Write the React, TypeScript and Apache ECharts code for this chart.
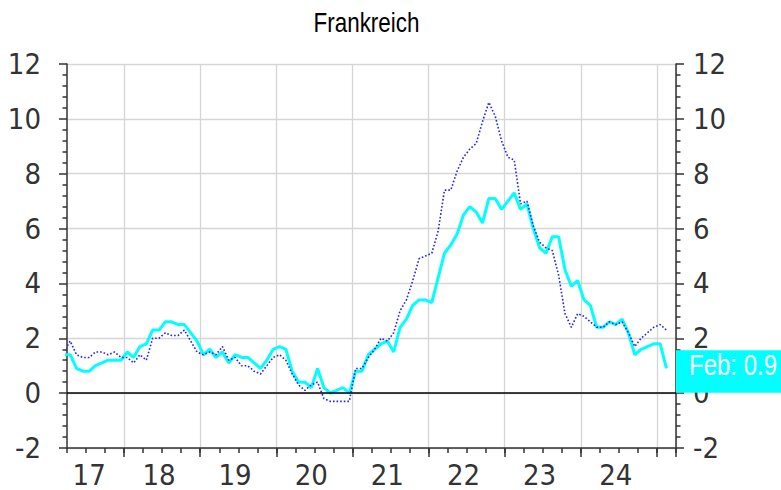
import { useEffect, useRef } from 'react';
import * as echarts from 'echarts';

const AXIS_FONT = '"DejaVu Sans Condensed", "Liberation Sans", sans-serif';
const TEXT_FONT = '"Liberation Sans", Arial, sans-serif';

const chartTitle = 'Frankreich';
// first observation: March 2017 (monthly, plotted mid-month)
const firstYear = 2017;
const firstMonth = 3;
// visible axis: April 2017 .. March 2025 (monthly bands)
const axisFirst = { year: 2017, month: 4 };
const axisMonths = 96;

const yMin = -2;
const yMax = 12;
const yStep = 2;

const monthAbbr = ['Jan', 'Feb', 'Mär', 'Apr', 'Mai', 'Jun', 'Jul', 'Aug', 'Sep', 'Okt', 'Nov', 'Dez'];

// cyan solid line (France)
const frankreich = [
  1.4, 1.4, 0.9, 0.8, 0.8, 1.0, 1.1, 1.2, 1.2, 1.2,
  1.5, 1.3, 1.7, 1.8, 2.3, 2.3, 2.6, 2.6, 2.5, 2.5, 2.2, 1.9,
  1.4, 1.6, 1.3, 1.5, 1.1, 1.4, 1.3, 1.3, 1.1, 0.9, 1.2, 1.6,
  1.7, 1.6, 0.8, 0.4, 0.4, 0.2, 0.9, 0.2, 0.0, 0.1, 0.2, 0.0,
  0.8, 0.8, 1.4, 1.6, 1.8, 1.9, 1.5, 2.4, 2.7, 3.2, 3.4, 3.4,
  3.3, 4.2, 5.1, 5.4, 5.8, 6.5, 6.8, 6.6, 6.2, 7.1, 7.1, 6.7,
  7.0, 7.3, 6.7, 6.9, 6.0, 5.3, 5.1, 5.7, 5.7, 4.5, 3.9, 4.1,
  3.4, 3.2, 2.4, 2.4, 2.6, 2.5, 2.7, 2.2, 1.4, 1.6, 1.7, 1.8,
  1.8, 0.9,
];

// blue dotted line (comparison)
const vergleich = [
  1.5, 1.9, 1.4, 1.3, 1.3, 1.5, 1.5, 1.4, 1.5, 1.3,
  1.3, 1.1, 1.4, 1.2, 2.0, 2.0, 2.2, 2.1, 2.1, 2.3, 1.9, 1.5,
  1.4, 1.5, 1.4, 1.7, 1.2, 1.3, 1.0, 1.0, 0.8, 0.7, 1.0, 1.3,
  1.4, 1.2, 0.7, 0.3, 0.1, 0.3, 0.4, -0.2, -0.3, -0.3, -0.3, -0.3,
  0.9, 0.9, 1.3, 1.6, 2.0, 1.9, 2.2, 3.0, 3.4, 4.1, 4.9, 5.0,
  5.1, 5.9, 7.4, 7.4, 8.1, 8.6, 8.9, 9.1, 9.9, 10.6, 10.1, 9.2,
  8.6, 8.5, 6.9, 7.0, 6.1, 5.5, 5.3, 5.2, 4.3, 2.9, 2.4, 2.9,
  2.8, 2.6, 2.4, 2.4, 2.6, 2.5, 2.6, 2.2, 1.7, 2.0, 2.2, 2.4,
  2.5, 2.3,
];

// month index since Jan of firstYear (0-based)
const monthIndex = (year: number, month: number) => (year - firstYear) * 12 + (month - 1);

const categories: string[] = [];
for (let i = 0; i < axisMonths; i++) {
  const idx = monthIndex(axisFirst.year, axisFirst.month) + i;
  const y = firstYear + Math.floor(idx / 12);
  const m = (idx % 12) + 1;
  categories.push(`${y}-${m < 10 ? '0' + m : m}`);
}

const catMonth = (v: string) => parseInt(v.slice(5, 7), 10);
const catYear = (v: string) => parseInt(v.slice(0, 4), 10);

const toPairs = (vals: number[]) =>
  vals.map((v, i) => [monthIndex(firstYear, firstMonth) + i + 0.5, v]);

const xMin = monthIndex(axisFirst.year, axisFirst.month);
const xMax = xMin + axisMonths;

export default function App() {
  const ref = useRef<HTMLDivElement>(null);
  useEffect(() => {
    if (!ref.current) return;
    const chart = echarts.init(ref.current, null, { renderer: 'svg' });
    const axisColor = '#333';
    const gridColor = '#d5d5d5';
    const labelStyle = { fontSize: 29, color: axisColor, fontFamily: AXIS_FONT };
    const yBase = {
      type: 'value',
      min: yMin,
      max: yMax,
      interval: yStep,
      axisLine: { show: true, onZero: false, lineStyle: { color: axisColor, width: 1.5 } },
      axisTick: { show: true, length: 8, lineStyle: { color: axisColor, width: 1.5 } },
      minorTick: { show: true, splitNumber: 5, length: 4.5, lineStyle: { color: axisColor, width: 1.5 } },
    };
    chart.setOption({
      animation: false,
      backgroundColor: '#fff',
      grid: { left: 67, right: 105, top: 64, bottom: 42, containLabel: false, outerBoundsMode: 'none' },
      xAxis: [
        {
          type: 'category',
          position: 'bottom',
          data: categories,
          boundaryGap: true,
          axisLine: { show: true, onZero: false, lineStyle: { color: axisColor, width: 1.5 } },
          axisTick: {
            show: true,
            length: 5,
            interval: (_i: number, v: string) => catMonth(v) % 3 === 1,
            lineStyle: { color: axisColor, width: 1.5 },
          },
          axisLabel: { show: false },
          splitLine: { show: false },
        },
        {
          type: 'category',
          position: 'bottom',
          data: categories,
          boundaryGap: true,
          axisLine: { show: false, onZero: false },
          axisTick: {
            show: true,
            length: 9,
            interval: (_i: number, v: string) => catMonth(v) === 1,
            lineStyle: { color: axisColor, width: 1.5 },
          },
          splitLine: {
            show: true,
            interval: (_i: number, v: string) => catMonth(v) === 1,
            lineStyle: { color: gridColor, width: 1.3 },
          },
          axisLabel: {
            ...labelStyle,
            margin: 12,
            lineHeight: 29,
            interval: (_i: number, v: string) =>
              catYear(v) === axisFirst.year ? catMonth(v) === 7 : catMonth(v) === 6,
            formatter: (v: string) => v.slice(2, 4),
          },
        },
        { type: 'value', position: 'bottom', min: xMin, max: xMax, show: false },
      ],
      yAxis: [
        {
          ...yBase,
          position: 'left',
          splitLine: { show: true, lineStyle: { color: gridColor, width: 1.3 } },
          axisLabel: { ...labelStyle, margin: 26 },
        },
        {
          ...yBase,
          position: 'right',
          splitLine: { show: false },
          axisLabel: { ...labelStyle, margin: 17 },
        },
      ],
      series: [
        {
          type: 'line',
          name: 'Frankreich',
          xAxisIndex: 2,
          yAxisIndex: 0,
          data: toPairs(frankreich),
          symbol: 'none',
          clip: true,
          lineStyle: { color: '#00ffff', width: 3 },
          markLine: {
            silent: true,
            symbol: ['none', 'none'],
            label: { show: false },
            lineStyle: { color: '#000', width: 1.5, type: 'solid' },
            data: [{ yAxis: 0 }],
          },
        },
        {
          type: 'line',
          name: 'Vergleich',
          xAxisIndex: 2,
          yAxisIndex: 0,
          data: toPairs(vergleich),
          symbol: 'none',
          clip: true,
          lineStyle: { color: '#2222ee', width: 1.6, type: [1.6, 2] },
        },
      ],
    });

    const lastVal = frankreich[frankreich.length - 1];
    const lastIdx = monthIndex(firstYear, firstMonth) + frankreich.length - 1;
    const lastMonthName = monthAbbr[lastIdx % 12];
    const yC = chart.convertToPixel({ yAxisIndex: 0 }, lastVal) as number;
    const xR = chart.convertToPixel({ xAxisIndex: 2 }, xMax) as number;
    const xL = chart.convertToPixel({ xAxisIndex: 2 }, xMin) as number;
    chart.setOption({
      graphic: [
        {
          type: 'text',
          z: 100,
          x: (xL + xR) / 2 - 5,
          y: 22.5,
          scaleX: 0.83,
          style: {
            text: chartTitle,
            fill: '#000',
            fontSize: 27,
            fontFamily: TEXT_FONT,
            align: 'center',
            verticalAlign: 'middle',
          },
        },
        {
          type: 'rect',
          z: 100,
          shape: { x: xR, y: yC - 18.3, width: 140, height: 42.7 },
          style: { fill: '#00ffff' },
        },
        {
          type: 'text',
          z: 101,
          x: xR + 13,
          y: yC - 4,
          scaleX: 0.8,
          style: {
            text: `${lastMonthName}: ${lastVal}`,
            fill: '#fff',
            fontSize: 30,
            fontFamily: TEXT_FONT,
            verticalAlign: 'middle',
            align: 'left',
          },
        },
      ],
    });

    return () => chart.dispose();
  }, []);
  return <div ref={ref} style={{ position: 'fixed', left: 0, top: 0, width: 781, height: 490 }} />;
}
